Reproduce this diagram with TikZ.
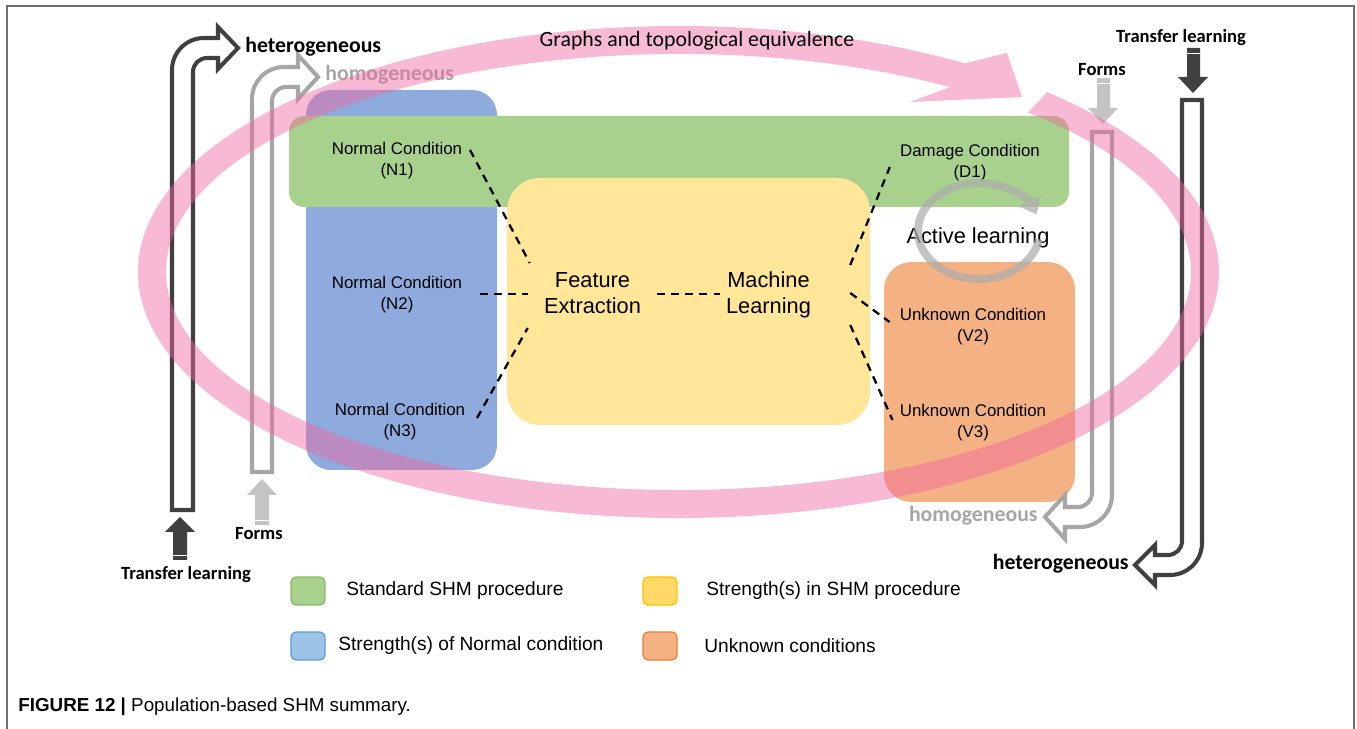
\documentclass[tikz,border=0pt]{standalone}
\usepackage{fontspec}
\setmainfont{Liberation Sans}
\newfontfamily\calibri{Carlito}
\usepackage{tikz}
\usetikzlibrary{positioning, arrows.meta}
\usepackage{xcolor}

\definecolor{shmgreen}{RGB}{169,209,142}
\definecolor{shmblue}{RGB}{143,170,220}
\definecolor{shmyellow}{RGB}{255,230,153}
\definecolor{shmorange}{RGB}{244,177,131}
\definecolor{ringpink}{RGB}{240,100,160}
\definecolor{darkarrow}{RGB}{64,64,64}
\definecolor{lightarrow}{RGB}{166,166,166}
\definecolor{lightblock}{RGB}{196,196,196}
\definecolor{cyclegray}{RGB}{172,172,172}
\definecolor{framegray}{RGB}{110,110,110}

\begin{document}
\begin{tikzpicture}[x=0.02cm, y=-0.02cm,
    cond/.style={align=center, inner sep=0pt, font=\fontsize{9.6}{12}\selectfont},
    stage/.style={align=center, inner sep=0pt, font=\fontsize{12.4}{14.8}\selectfont},
    link/.style={line width=1.3pt, dash pattern=on 4.5pt off 3.5pt},
    hollow/.style={line width=2.3pt, fill=white},
    tag/.style={inner sep=0pt, font=\calibri\bfseries\fontsize{12.4}{14}\selectfont},
    source/.style={inner sep=0pt, font=\calibri\bfseries\fontsize{10.6}{12}\selectfont},
    legend/.style={minimum width=0.68cm, minimum height=0.56cm, inner sep=0pt, outer sep=0pt, rounded corners=0.1cm, line width=0.7pt},
    legend text/.style={inner sep=0pt, font=\fontsize{10.9}{12}\selectfont}]
    \useasboundingbox (0,0) rectangle (1357,729);
    \draw[framegray, line width=0.8pt] (7,729) -- (7,6) -- (1354,6) -- (1354,729);

    \fill[shmblue, rounded corners=0.5cm] (306,90) rectangle (497,470);
    \fill[shmgreen, rounded corners=0.3cm] (289,116) rectangle (1069,207);
    \fill[shmyellow, rounded corners=0.66cm] (507,178) rectangle (870,425);
    \fill[shmorange, rounded corners=0.55cm] (884,262) rectangle (1075,502);

    \draw[hollow, draw=darkarrow] (172,510) -- (172,70) arc[start angle=180, end angle=270, radius=32] -- (218,38) -- (218,27) -- (238,48) -- (218,69) -- (218,58) -- (207,58) arc[start angle=270, end angle=180, radius=14] -- (193,510) -- cycle;
    \draw[hollow, draw=lightarrow] (252,472) -- (252,99) arc[start angle=180, end angle=270, radius=32] -- (298,67) -- (298,55) -- (318,77) -- (298,99) -- (298,87) -- (286,87) arc[start angle=270, end angle=180, radius=14] -- (272,472) -- cycle;
    \draw[hollow, draw=darkarrow] (1182,100) -- (1202,100) -- (1202,543) arc[start angle=0, end angle=90, radius=32] -- (1155,575) -- (1155,585) -- (1135,565) -- (1155,545) -- (1155,555) -- (1168,555) arc[start angle=90, end angle=0, radius=14] -- cycle;
    \draw[hollow, draw=lightarrow] (1092,132) -- (1112,132) -- (1112,495) arc[start angle=0, end angle=90, radius=32] -- (1065,527) -- (1065,539) -- (1045,517) -- (1065,495) -- (1065,507) -- (1078,507) arc[start angle=90, end angle=0, radius=14] -- cycle;

    \fill[darkarrow] (173,560) -- (173,532) -- (165,532) -- (180,517) -- (195,532) -- (187,532) -- (187,560) -- cycle;
    \fill[lightblock] (255,525) -- (255,495) -- (247,495) -- (262,479) -- (277,495) -- (269,495) -- (269,525) -- cycle;
    \fill[darkarrow] (1187,48) -- (1187,77) -- (1178,77) -- (1193,93) -- (1208,77) -- (1200,77) -- (1200,48) -- cycle;
    \fill[lightblock] (1097,78) -- (1097,108) -- (1088,108) -- (1103,124) -- (1118,108) -- (1110,108) -- (1110,78) -- cycle;
    \draw[white, line width=0.5pt] (173,555) -- (187,555) (255,520) -- (269,520) (1187,53) -- (1200,53) (1097,83) -- (1110,83);

    \node[tag, anchor=base west] (het-left) at (245,53) {heterogeneous};
    \node[tag, anchor=base west, lightarrow] (hom-left) at (325,81) {homogeneous};
    \node[source, anchor=base] (tl-left) at (186,580) {Transfer learning};
    \node[source, anchor=base] (forms-left) at (259,540) {Forms};
    \node[source, anchor=base] (tl-right) at (1181,43) {Transfer learning};
    \node[source, anchor=base] (forms-right) at (1102,76) {Forms};
    \node[tag, anchor=base east, lightarrow] (hom-right) at (1038,522) {homogeneous};
    \node[tag, anchor=base east] (het-right) at (1129,570) {heterogeneous};

    \fill[ringpink, opacity=0.45] (1047.1,92.1) arc[start angle=-47, end angle=302, x radius=540.5, y radius=246] -- (1007,53) -- (1022,97) -- (910,102) -- (950.1,87.1) arc[start angle=302, end angle=-47, x radius=512.5, y radius=218] -- cycle;
    \node[inner sep=0pt, anchor=base, font=\calibri\fontsize{12.4}{14}\selectfont] (graphs) at (697,47) {Graphs and topological equivalence};

    \node[cond] (n1) at (397,161) {Normal Condition\\(N1)};
    \node[cond] (n2) at (397,295) {Normal Condition\\(N2)};
    \node[cond] (n3) at (400,422) {Normal Condition\\(N3)};
    \node[cond] (d1) at (970,163) {Damage Condition\\(D1)};
    \node[cond] (v2) at (973,327) {Unknown Condition\\(V2)};
    \node[cond] (v3) at (973,423) {Unknown Condition\\(V3)};
    \node[stage] (fe) at (592.5,293) {Feature\\Extraction};
    \node[stage] (ml) at (768.5,295) {Machine\\Learning};

    \node[stage, anchor=base] (active) at (978,244) {Active learning};
    \coordinate (al-centre) at (979,231);
    \begin{scope}[transparency group, opacity=0.72]
    \draw[cyclegray, line width=4.5pt, -{Triangle[length=0.3cm, width=0.48cm]}] (al-centre) ++(10:61 and 48) arc[start angle=10, end angle=340, x radius=61, y radius=48];
    \end{scope}

    \draw[link] ([shift={(7.5,-11)}]n1.east) -- ([shift={(-14,-30)}]fe.west);
    \draw[link] ([shift={(17.5,-1)}]n2.east) -- ([shift={(-16,1)}]fe.west);
    \draw[link] ([shift={(11.5,-4)}]n3.east) -- ([shift={(-16,35)}]fe.west);
    \draw[link] ([shift={(16,1)}]fe.east) -- ([shift={(-6,-1)}]ml.west);
    \draw[link] ([shift={(39,-30)}]ml.east) -- ([shift={(-10,4)}]d1.west);
    \draw[link] ([shift={(39,-2)}]ml.east) -- ([shift={(-10,-5)}]v2.west);
    \draw[link] ([shift={(39,30)}]ml.east) -- ([shift={(-7,-3)}]v3.west);

    \node[legend, fill=shmgreen, draw={rgb,255:red,130;green,185;blue,100}] (leg-standard) at (308,591) {};
    \node[legend text, right=0.42cm of leg-standard] (leg-standard-text) {Standard SHM procedure};
    \node[legend, fill={rgb,255:red,255;green,217;blue,102}, draw={rgb,255:red,255;green,192;blue,0}] (leg-strength) at (660,591) {};
    \node[legend text, right=0.58cm of leg-strength] (leg-strength-text) {Strength(s) in SHM procedure};
    \node[legend, fill={rgb,255:red,157;green,195;blue,230}, draw={rgb,255:red,91;green,155;blue,213}] (leg-normal) at (308,646) {};
    \node[legend text, right=0.26cm of leg-normal] (leg-normal-text) {Strength(s) of Normal condition};
    \node[legend, fill=shmorange, draw={rgb,255:red,237;green,125;blue,49}] (leg-unknown) at (660,646) {};
    \node[legend text, right=0.54cm of leg-unknown] (leg-unknown-text) {Unknown conditions};

    \node[anchor=base west, inner sep=0pt, font=\fontsize{10.7}{12}\selectfont] (caption) at (18,711) {\textbf{FIGURE 12 |} Population-based SHM summary.};
\end{tikzpicture}
\end{document}
